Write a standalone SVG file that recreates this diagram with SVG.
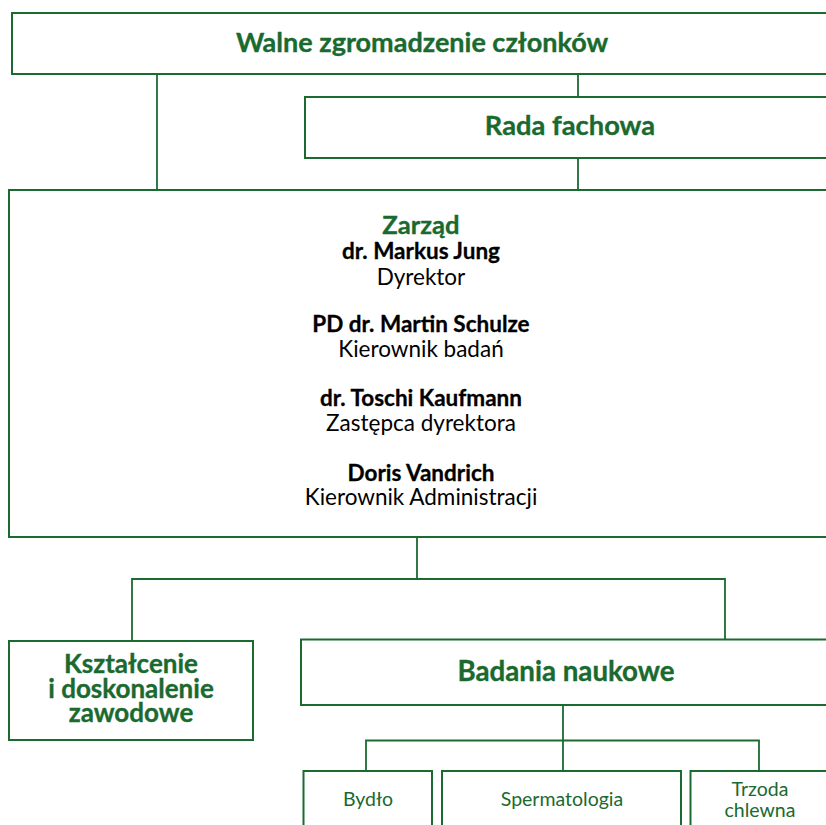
<svg xmlns="http://www.w3.org/2000/svg" width="826" height="825" viewBox="0 0 826 825">
  <style>
    .box { fill: #ffffff; stroke: #1b6b31; stroke-width: 2; }
    .link { fill: none; stroke: #1b6b31; stroke-width: 1.8; }
    text { font-family: Lato, "Open Sans", "Liberation Sans", sans-serif; text-anchor: middle; }
    .head { fill: #1a6a30; stroke: #1a6a30; stroke-width: 0.35; font-weight: bold; }
    .name { fill: #000000; stroke: #000000; stroke-width: 0.3; font-weight: bold; font-size: 22.5px; }
    .role { fill: #000000; font-size: 22.5px; }
    .unit { fill: #1a6a30; font-size: 19.5px; }
  </style>

  <rect width="826" height="825" fill="#ffffff"/>

  <!-- connectors -->
  <g id="connectors">
    <path class="link" d="M157 74 V190"/>
    <path class="link" d="M578 74 V97 M578 158 V190"/>
    <path class="link" d="M417 537 V579 M132 641 V579 H725 V639.5"/>
    <path class="link" d="M563 705 V771 M366 771 V740.5 H759 V771"/>
  </g>

  <g id="walne">
    <rect class="box" x="12" y="13" width="830" height="61"/>
    <text class="head" x="422" y="52" font-size="27">Walne zgromadzenie członków</text>
  </g>

  <g id="rada">
    <rect class="box" x="305" y="97" width="540" height="61"/>
    <text class="head" x="570" y="135" font-size="27.3">Rada fachowa</text>
  </g>

  <g id="zarzad">
    <rect class="box" x="9" y="190" width="840" height="347"/>
    <text class="head" x="421" y="234" font-size="25.6">Zarząd</text>
    <text class="name" x="421" y="259">dr. Markus Jung</text>
    <text class="role" x="421" y="285">Dyrektor</text>
    <text class="name" x="421" y="332">PD dr. Martin Schulze</text>
    <text class="role" x="421" y="357">Kierownik badań</text>
    <text class="name" x="421" y="406">dr. Toschi Kaufmann</text>
    <text class="role" x="421" y="431">Zastępca dyrektora</text>
    <text class="name" x="421" y="481">Doris Vandrich</text>
    <text class="role" x="421" y="505">Kierownik Administracji</text>
  </g>

  <g id="ksztalcenie">
    <rect class="box" x="9" y="641" width="244" height="99"/>
    <text class="head" x="131" y="673" font-size="26">Kształcenie</text>
    <text class="head" x="131" y="698" font-size="26">i doskonalenie</text>
    <text class="head" x="131" y="722" font-size="26">zawodowe</text>
  </g>

  <g id="badania">
    <rect class="box" x="301" y="639.5" width="545" height="65.5"/>
    <text class="head" x="566" y="681" font-size="27.7">Badania naukowe</text>
  </g>

  <g id="bydlo">
    <rect class="box" x="303.5" y="771" width="128.5" height="60"/>
    <text class="unit" x="368" y="806">Bydło</text>
  </g>

  <g id="spermatologia">
    <rect class="box" x="442" y="771" width="239" height="60"/>
    <text class="unit" x="562" y="806">Spermatologia</text>
  </g>

  <g id="trzoda">
    <rect class="box" x="690.5" y="771" width="160" height="60"/>
    <text class="unit" x="760" y="796">Trzoda</text>
    <text class="unit" x="760" y="817">chlewna</text>
  </g>
</svg>
